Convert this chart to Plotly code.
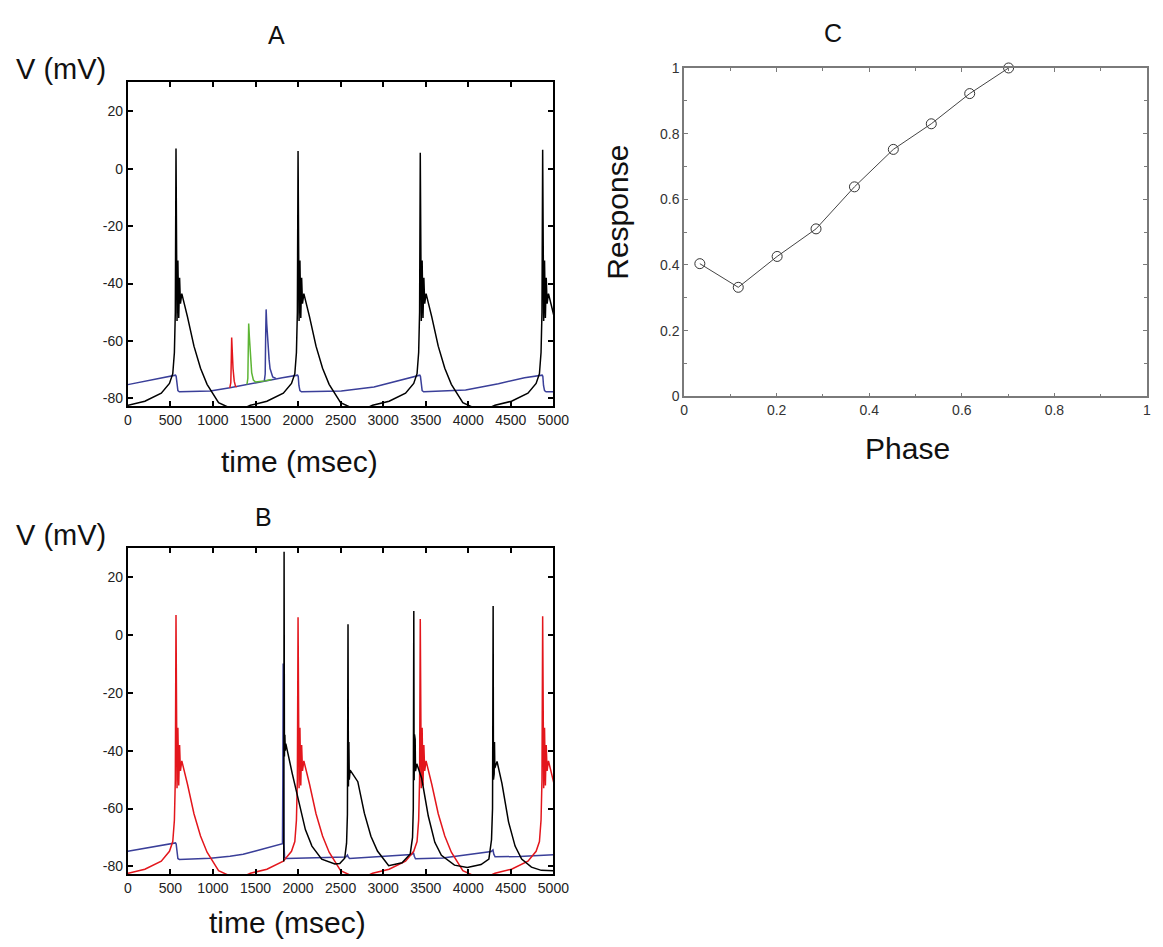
import plotly.graph_objects as go

# ---------------- data ----------------
# Pacemaker cell (black in A, red in B): spike times (ms) and peak voltages (mV)
PACE_SPIKE_T = [566, 2000, 3436, 4874]
PACE_SPIKE_V = [7.0, 6.2, 5.6, 6.6]
PACE_START_T = 0
PACE_START_V = -82.3
# waveform around each spike (ms relative to the peak, mV)
PRE_DT = [-560, -366, -173, -77, -38, -19, -8]
PRE_V = [-82.4, -81.0, -78.2, -74.8, -71.4, -64.0, -50.0]
POST_DT = [12, 22, 32, 42, 52, 68, 85, 135, 211, 288, 365, 442, 500]
POST_V = [-53.0, -32.0, -52.0, -38.0, -47.0, -43.5, -45.5, -51.6, -61.8, -69.5, -75.1, -79.0, -81.5]
TROUGH_DT = 720
TROUGH_V = -84.5

# Panel A, blue cell
A_BLUE_T = [0, 560, 568, 576, 588, 605, 800, 969, 1200, 1431, 1623, 1815, 1994, 2002, 2010, 2022, 2040,
            2300, 2508, 2892, 3200, 3430, 3438, 3446, 3458, 3476, 3700, 3969, 4354, 4661, 4868, 4876, 4884,
            4896, 4914, 5000]
A_BLUE_V = [-75.2, -71.9, -72.3, -75.5, -77.3, -77.7, -77.6, -77.4, -76.3, -74.9, -73.8, -72.8, -71.9, -72.3, -75.5,
            -77.3, -77.7, -77.6, -77.4, -76.0, -73.7, -71.9, -72.3, -75.5, -77.3, -77.7, -77.5, -77.1, -74.9, -72.8,
            -71.9, -72.3, -75.5, -77.3, -77.7, -77.7]
# Panel A, small evoked responses
A_RED_T = [1198, 1210, 1216, 1220, 1226, 1236, 1250, 1265, 1280]
A_RED_V = [-76.3, -74.5, -66.0, -58.8, -63.0, -69.6, -74.0, -75.8, -76.0]
A_GREEN_T = [1400, 1410, 1416, 1420, 1428, 1440, 1455, 1475, 1500, 1600, 1690]
A_GREEN_V = [-75.1, -73.0, -61.0, -53.9, -58.5, -65.5, -71.0, -73.6, -74.3, -73.9, -73.4]
A_BSPK_T = [1604, 1614, 1620, 1625, 1632, 1644, 1660, 1671, 1690, 1702, 1740]
A_BSPK_V = [-73.8, -71.5, -57.0, -49.0, -54.0, -60.5, -66.5, -69.6, -72.0, -72.5, -73.0]

# Panel B, blue cell
B_BLUE_T = [0, 560, 568, 576, 588, 605, 800, 970, 1200, 1355, 1500, 1663, 1817, 1821, 1825, 1829, 1834, 1842,
            1860, 2560, 2572, 2580, 2590, 2605, 3335, 3348, 3356, 3366, 3380, 3700, 4145, 4270, 4282, 4290,
            4300, 4315, 4600, 5000]
B_BLUE_V = [-74.8, -71.9, -72.3, -75.5, -77.3, -77.6, -77.5, -77.2, -76.5, -75.8, -74.7, -73.4, -72.2, -50.0, -9.8,
            -45.0, -72.0, -77.0, -77.3, -76.8, -76.4, -76.1, -76.8, -77.3, -75.9, -75.5, -75.3, -76.5, -77.4, -77.1,
            -75.3, -74.9, -74.5, -74.3, -75.8, -76.7, -76.6, -76.0]
# Panel B, black cell
B_BLACK_T = [1832, 1836, 1840, 1845, 1850, 1856, 1932, 2009, 2086, 2163, 2278, 2432, 2490, 2548, 2570, 2580,
             2587, 2592, 2597, 2602, 2612, 2702, 2779, 2856, 2933, 3065, 3222, 3318, 3345, 3354,
             3360, 3364, 3368, 3372, 3376, 3380, 3395, 3453, 3530, 3607, 3684, 3838, 3988, 4150, 4242, 4273, 4285,
             4292, 4296, 4300, 4304, 4308, 4312, 4338, 4396, 4473, 4550, 4627, 4742, 4858, 5000]
B_BLACK_V = [-78.3, 28.9, -42.0, -34.5, -40.0, -37.5, -47.9, -58.0, -67.3, -73.0, -77.5, -79.2, -79.0, -77.2, -72.0, -62.0,
             3.8, -52.4, -37.0, -50.0, -46.7, -50.7, -61.6, -69.6, -74.7, -79.8, -78.8, -75.7, -70.0, -60.0,
             8.4, -50.2, -34.3, -48.0, -36.0, -47.0, -44.5, -49.6, -62.6, -71.7, -76.2, -79.6, -80.4, -79.4, -77.5, -70.8, -60.0,
             10.1, -50.0, -35.0, -48.0, -37.0, -46.0, -43.7, -51.4, -64.6, -73.0, -77.5, -80.3, -81.4, -81.5]

# Panel C, phase response
C_PHASE = [0.034, 0.117, 0.201, 0.285, 0.368, 0.452, 0.534, 0.617, 0.701]
C_RESP = [0.404, 0.332, 0.426, 0.510, 0.638, 0.752, 0.830, 0.922, 1.0]

T_TICKS = [0, 500, 1000, 1500, 2000, 2500, 3000, 3500, 4000, 4500, 5000]
V_TICKS = [-80, -60, -40, -20, 0, 20]
C_TICKS = [0, 0.2, 0.4, 0.6, 0.8, 1]
C_TICKTEXT = ["0", "0.2", "0.4", "0.6", "0.8", "1"]


def pacemaker_trace():
    t = [PACE_START_T]
    v = [PACE_START_V]
    for i, (ts, vp) in enumerate(zip(PACE_SPIKE_T, PACE_SPIKE_V)):
        for dt, vv in zip(PRE_DT, PRE_V):
            if ts + dt > t[-1]:
                t.append(ts + dt)
                v.append(vv)
        t.append(ts)
        v.append(vp)
        for dt, vv in zip(POST_DT, POST_V):
            t.append(ts + dt)
            v.append(vv)
        if i + 1 < len(PACE_SPIKE_T):
            t.append(ts + TROUGH_DT)
            v.append(TROUGH_V)
    return t, v


PT, PV = pacemaker_trace()

BLACK = "#000000"
RED = "#e3161c"
BLUE = "#3a3f99"
GREEN = "#5db534"
W = 1163
H = 947
FONT = "Liberation Sans, Arial, sans-serif"

fig = go.Figure()


def line(x, y, color, xa, ya, width=1.5):
    fig.add_trace(go.Scatter(x=x, y=y, mode="lines", line=dict(color=color, width=width),
                             xaxis=xa, yaxis=ya, showlegend=False, hoverinfo="skip"))


# Panel A
line(A_BLUE_T, A_BLUE_V, BLUE, "x", "y")
line(A_RED_T, A_RED_V, RED, "x", "y")
line(A_GREEN_T, A_GREEN_V, GREEN, "x", "y")
line(A_BSPK_T, A_BSPK_V, BLUE, "x", "y")
line(PT, PV, BLACK, "x", "y")
# Panel B
line(B_BLUE_T, B_BLUE_V, BLUE, "x2", "y2")
line(PT, PV, RED, "x2", "y2")
line(B_BLACK_T, B_BLACK_V, BLACK, "x2", "y2")
# Panel C
fig.add_trace(go.Scatter(x=C_PHASE, y=C_RESP, mode="lines+markers",
                         line=dict(color="#444444", width=1),
                         marker=dict(symbol="circle-open", size=10, color="#333333", line=dict(width=1)),
                         xaxis="x3", yaxis="y3", showlegend=False, cliponaxis=False, hoverinfo="skip"))


def px_x(p):
    return p / W


def px_y(p):
    return 1 - p / H


tick_font = dict(family=FONT, size=14, color="#222222")
vt_text = [str(v) for v in V_TICKS]

common_x = dict(range=[0, 5000], tickvals=T_TICKS, ticktext=[str(t) for t in T_TICKS],
                ticks="inside", ticklen=5, tickwidth=1.5, tickcolor="black",
                showline=True, linewidth=2, linecolor="black", mirror="ticks",
                showgrid=False, zeroline=False, tickfont=tick_font, fixedrange=True)
common_y = dict(range=[-82.7, 30.3], tickvals=V_TICKS, ticktext=vt_text,
                ticks="inside", ticklen=5, tickwidth=1.5, tickcolor="black",
                showline=True, linewidth=2, linecolor="black", mirror="ticks",
                showgrid=False, zeroline=False, tickfont=tick_font, fixedrange=True)

c_axis_col = "#7a7a7a"
c_tick_font = dict(family=FONT, size=14, color="#333333")
common_c = dict(range=[0, 1], tickvals=C_TICKS, ticktext=C_TICKTEXT,
                ticks="inside", ticklen=4, tickwidth=1, tickcolor=c_axis_col,
                minor=dict(ticks="inside", ticklen=3, dtick=0.1, tick0=0, tickcolor=c_axis_col, showgrid=False),
                showline=True, linewidth=1.5, linecolor=c_axis_col, mirror="ticks",
                showgrid=False, zeroline=False, tickfont=c_tick_font, fixedrange=True)

fig.update_layout(
    width=W, height=H, margin=dict(l=0, r=0, t=0, b=0), autosize=False,
    paper_bgcolor="white", plot_bgcolor="white",
    xaxis=dict(domain=[px_x(126), px_x(559)], anchor="y", **common_x),
    yaxis=dict(domain=[px_y(405), px_y(75)], anchor="x", **common_y),
    xaxis2=dict(domain=[px_x(126), px_x(559)], anchor="y2", **common_x),
    yaxis2=dict(domain=[px_y(881), px_y(549)], anchor="x2", **common_y),
    xaxis3=dict(domain=[px_x(692), 1.0], anchor="y3", ticklabeloverflow="allow", **common_c),
    yaxis3=dict(domain=[px_y(395), px_y(61)], anchor="x3", **common_c),
)


def note(text, cx, cy, size, angle=0):
    fig.add_annotation(text=text, x=px_x(cx), y=px_y(cy), xref="paper", yref="paper",
                       xanchor="center", yanchor="middle", showarrow=False, textangle=angle,
                       font=dict(family=FONT, size=size, color="#111111"))


note("A", 277, 27, 25)
note("B", 264, 518, 25)
note("C", 843, 25, 25)
note("V (mV)", 58, 62, 29)
note("V (mV)", 58, 536, 29)
note("time (msec)", 301, 461, 30)
note("time (msec)", 288, 930, 30)
note("Response", 624, 208, 30, -90)
note("Phase", 919, 448, 30)

fig.write_html("out.html", config={"displayModeBar": False})
